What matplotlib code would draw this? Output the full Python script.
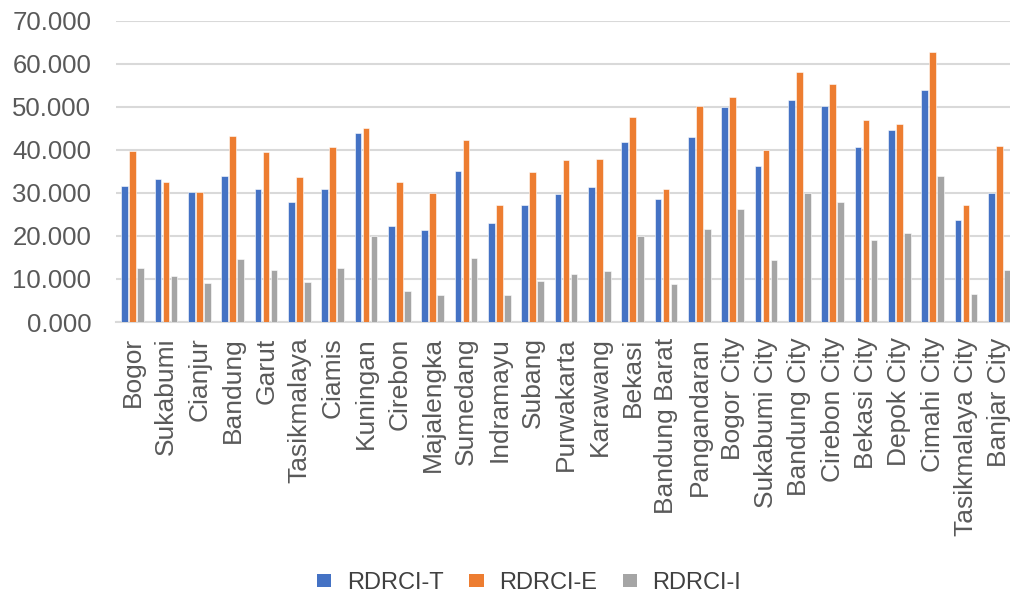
import numpy as np
import matplotlib
matplotlib.use("Agg")
import matplotlib.pyplot as plt

regions = ["Bogor", "Sukabumi", "Cianjur", "Bandung", "Garut", "Tasikmalaya",
           "Ciamis", "Kuningan", "Cirebon", "Majalengka", "Sumedang", "Indramayu",
           "Subang", "Purwakarta", "Karawang", "Bekasi", "Bandung Barat",
           "Pangandaran", "Bogor City", "Sukabumi City", "Bandung City",
           "Cirebon City", "Bekasi City", "Depok City", "Cimahi City",
           "Tasikmalaya City", "Banjar City"]

rdrci_t = [31.6, 33.3, 30.3, 33.9, 30.8, 27.8, 31.0, 44.0, 22.3, 21.3, 35.1, 22.9,
           27.2, 29.8, 31.3, 41.8, 28.5, 42.9, 50.0, 36.2, 51.6, 50.2, 40.6, 44.6,
           54.0, 23.7, 29.9]
rdrci_e = [39.8, 32.6, 30.3, 43.3, 39.5, 33.6, 40.6, 45.1, 32.6, 30.0, 42.3, 27.2,
           34.8, 37.6, 37.9, 47.7, 31.0, 50.2, 52.3, 40.0, 58.2, 55.3, 46.9, 46.1,
           62.8, 27.2, 41.0]
rdrci_i = [12.6, 10.8, 9.1, 14.7, 12.1, 9.2, 12.6, 20.0, 7.2, 6.3, 14.9, 6.3,
           9.5, 11.1, 11.9, 20.0, 8.8, 21.6, 26.2, 14.4, 30.0, 27.8, 19.1, 20.6,
           33.9, 6.5, 12.1]

series_names = ["RDRCI-T", "RDRCI-E", "RDRCI-I"]
colors = ["#4472C4", "#ED7D31", "#A5A5A5"]
yticks = [0, 10, 20, 30, 40, 50, 60, 70]

plt.rcParams["font.family"] = ["Liberation Sans", "DejaVu Sans"]

fig = plt.figure(figsize=(10.10, 5.97), dpi=100)
ax = fig.add_axes([0.115, 0.4606, 0.891, 0.5047])

x = np.arange(len(regions))
width = 0.2
offsets = [-0.24, 0.0, 0.24]
for vals, name, col, off in zip([rdrci_t, rdrci_e, rdrci_i], series_names, colors, offsets):
    ax.bar(x + off, vals, width=width, color=col, label=name,
           edgecolor="white", linewidth=0.4, zorder=3)

ax.set_xlim(-0.5, len(regions) - 0.5)
ax.set_ylim(0, 70)
ax.set_yticks(yticks)
ax.set_yticklabels([f"{v:.3f}" for v in yticks], fontsize=18.5, color="#595959")
ax.yaxis.grid(True, color="#D9D9D9", linewidth=1.5, zorder=0)
ax.set_axisbelow(True)
ax.set_xticks(x)
ax.set_xticklabels(regions, rotation=90, fontsize=19, color="#595959")
ax.tick_params(axis="y", length=0, pad=18)
ax.tick_params(axis="x", length=0, pad=11)
for side in ["top", "right", "left"]:
    ax.spines[side].set_visible(False)
ax.spines["bottom"].set_color("#D9D9D9")
ax.spines["bottom"].set_linewidth(1.5)

leg = fig.legend(loc="center", bbox_to_anchor=(0.524, 0.0235), ncol=3, frameon=False,
                 fontsize=17, handlelength=0.6, handleheight=0.45, handletextpad=0.65,
                 columnspacing=1.1, labelcolor="#404040")
for patch in leg.get_patches():
    patch.set_edgecolor("none")

fig.savefig("out.png", dpi=100)
